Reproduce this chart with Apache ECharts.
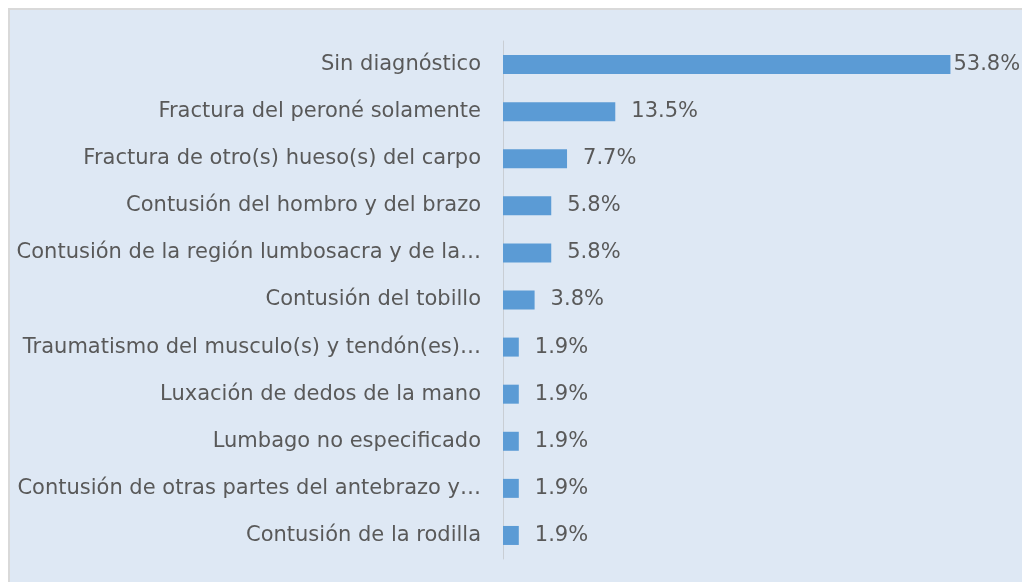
<!DOCTYPE html>
<html>
<head>
<meta charset="utf-8">
<script src="https://cdn.jsdelivr.net/npm/echarts@6/dist/echarts.min.js"></script>
<style>
html,body{margin:0;padding:0;background:#fff;}
#chart{width:1022px;height:582px;}
</style>
</head>
<body>
<div id="chart"></div>
<script>
// categorias de arriba hacia abajo
var categorias = [
	'Sin diagnóstico',
	'Fractura del peroné solamente',
	'Fractura de otro(s) hueso(s) del carpo',
	'Contusión del hombro y del brazo',
	'Contusión de la región lumbosacra y de la…',
	'Contusión del tobillo',
	'Traumatismo del musculo(s) y tendón(es)…',
	'Luxación de dedos de la mano',
	'Lumbago no especificado',
	'Contusión de otras partes del antebrazo y…',
	'Contusión de la rodilla'
];
var porcentajes = [53.8, 13.5, 7.7, 5.8, 5.8, 3.8, 1.9, 1.9, 1.9, 1.9, 1.9];

var fuente = '"DejaVu Sans", Arial, sans-serif';

var myChart = echarts.init(document.getElementById('chart'));

var datos = [];
for (var i = 0; i < porcentajes.length; i++) {
	var d = {value: porcentajes[i]};
	if (i == 0) {
		d.label = {distance: 3};   // la etiqueta mas larga queda pegada
	}
	datos.push(d);
}

var option = {
	backgroundColor: '#fff',
	animation: false,
	graphic: [{
		type: 'rect',
		shape: {x: 9, y: 9, width: 1020, height: 580},
		style: {fill: '#dee8f4', stroke: '#d9d9d9', lineWidth: 2},
		z: -10
	}],
	grid: {
		left: 503,
		right: 20,
		top: 41,
		bottom: 23
	},
	xAxis: {
		type: 'value',
		min: 0,
		max: 60,
		show: false
	},
	yAxis: {
		type: 'category',
		inverse: true,
		data: categorias,
		axisTick: {show: false},
		axisLine: {lineStyle: {color: '#c9ced4', width: 1}},
		axisLabel: {
			color: '#595959',
			fontSize: 21,
			fontFamily: fuente,
			margin: 22
		}
	},
	series: [{
		type: 'bar',
		data: datos,
		barWidth: 19,
		itemStyle: {color: '#5b9bd5'},
		label: {
			show: true,
			position: 'right',
			distance: 16,
			color: '#595959',
			fontSize: 21,
			fontFamily: fuente,
			formatter: function (p) { return p.value.toFixed(1) + '%'; }
		}
	}]
};
myChart.setOption(option);
</script>
</body>
</html>
